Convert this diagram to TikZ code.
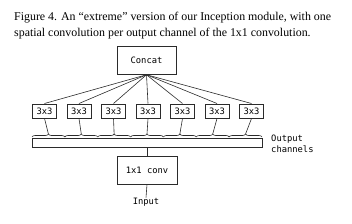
\documentclass[tikz,border=0pt]{standalone}
\usepackage{fontspec}
\setmainfont{Liberation Serif}
\newfontfamily\diafont{DejaVu Sans Mono}
\usepackage{xcolor}
\usepackage{tikz}
\usetikzlibrary{positioning, calc, decorations.pathreplacing}
\definecolor{LineGray}{HTML}{2B2B2B}

\begin{document}
\begin{tikzpicture}[
  x=1pt, y=1pt,
  conn/.style={line width=0.6pt, color=LineGray},
  opbox/.style={draw=LineGray, line width=1pt, font=\diafont\fontsize{8.8}{10}\selectfont,
                inner sep=0pt, align=center},
  smallbox/.style={opbox, minimum width=24pt, minimum height=14pt},
  bigbox/.style={opbox, minimum width=59pt, minimum height=27.5pt},
  chbrace/.style={conn, decorate, decoration={brace, amplitude=3pt}},
  caption/.style={font=\fontsize{11.9}{16}\selectfont, inner sep=0pt, anchor=base west},
  lbl/.style={font=\diafont\fontsize{8.8}{10.5}\selectfont, inner sep=0pt, align=left},
]
\useasboundingbox (0,0) rectangle (352,-223);

% ===== Caption =====
  \node[caption] (cap1) at (14,-20) {Figure 4. An ``extreme'' version of our Inception module, with one};
  \node[caption] (cap2) at (14,-36) {spatial convolution per output channel of the 1x1 convolution.};

% ===== Concat on top =====
  \node[bigbox] (concat) at (146.5,-60.5) {Concat};

% ===== 3x3 convolutions, one per channel =====
  \node[smallbox] (s1) at (44.5,-111) {3x3};
  \node[smallbox] (s2) at (79,-111) {3x3};
  \node[smallbox] (s3) at (113.5,-111) {3x3};
  \node[smallbox] (s4) at (148,-111) {3x3};
  \node[smallbox] (s5) at (182.5,-111) {3x3};
  \node[smallbox] (s6) at (217,-111) {3x3};
  \node[smallbox] (s7) at (251.5,-111) {3x3};
  \draw[conn] (concat.south) -- (s1.north);
  \draw[conn] (concat.south) -- (s2.north);
  \draw[conn] (concat.south) -- (s3.north);
  \draw[conn] (concat.south) -- (s4.north);
  \draw[conn] (concat.south) -- (s5.north);
  \draw[conn] (concat.south) -- (s6.north);
  \draw[conn] (concat.south) -- (s7.north);

% ===== Output channels bar with braces =====
  \node[draw=LineGray, line width=1pt, minimum width=230pt, minimum height=9pt, inner sep=0pt]
    (bar) at (147,-142.5) {};
  \node[lbl, anchor=north west] (outlbl) at (271,-135) {Output\\channels};
  \coordinate (b0) at (32,-137);
  \coordinate (b1) at (64.86,-137);
  \coordinate (b2) at (97.71,-137);
  \coordinate (b3) at (130.57,-137);
  \coordinate (b4) at (163.43,-137);
  \coordinate (b5) at (196.29,-137);
  \coordinate (b6) at (229.14,-137);
  \coordinate (b7) at (262,-137);
  \draw[chbrace] (b0) -- (b1) coordinate[midway, yshift=3pt] (t1);
  \draw[chbrace] (b1) -- (b2) coordinate[midway, yshift=3pt] (t2);
  \draw[chbrace] (b2) -- (b3) coordinate[midway, yshift=3pt] (t3);
  \draw[chbrace] (b3) -- (b4) coordinate[midway, yshift=3pt] (t4);
  \draw[chbrace] (b4) -- (b5) coordinate[midway, yshift=3pt] (t5);
  \draw[chbrace] (b5) -- (b6) coordinate[midway, yshift=3pt] (t6);
  \draw[chbrace] (b6) -- (b7) coordinate[midway, yshift=3pt] (t7);
  \draw[conn] (s1.south) -- (t1);
  \draw[conn] (s2.south) -- (t2);
  \draw[conn] (s3.south) -- (t3);
  \draw[conn] (s4.south) -- (t4);
  \draw[conn] (s5.south) -- (t5);
  \draw[conn] (s6.south) -- (t6);
  \draw[conn] (s7.south) -- (t7);

% ===== 1x1 conv and input =====
  \node[bigbox, minimum width=60pt, minimum height=28pt] (conv) at (147,-170) {1x1 conv};
  \node[lbl, anchor=north] (input) at (146,-197.5) {Input};
  \draw[conn] (bar.south -| conv.north) -- (conv.north);
  \draw[conn] (conv.south) -- (input.north);

\end{tikzpicture}
\end{document}
